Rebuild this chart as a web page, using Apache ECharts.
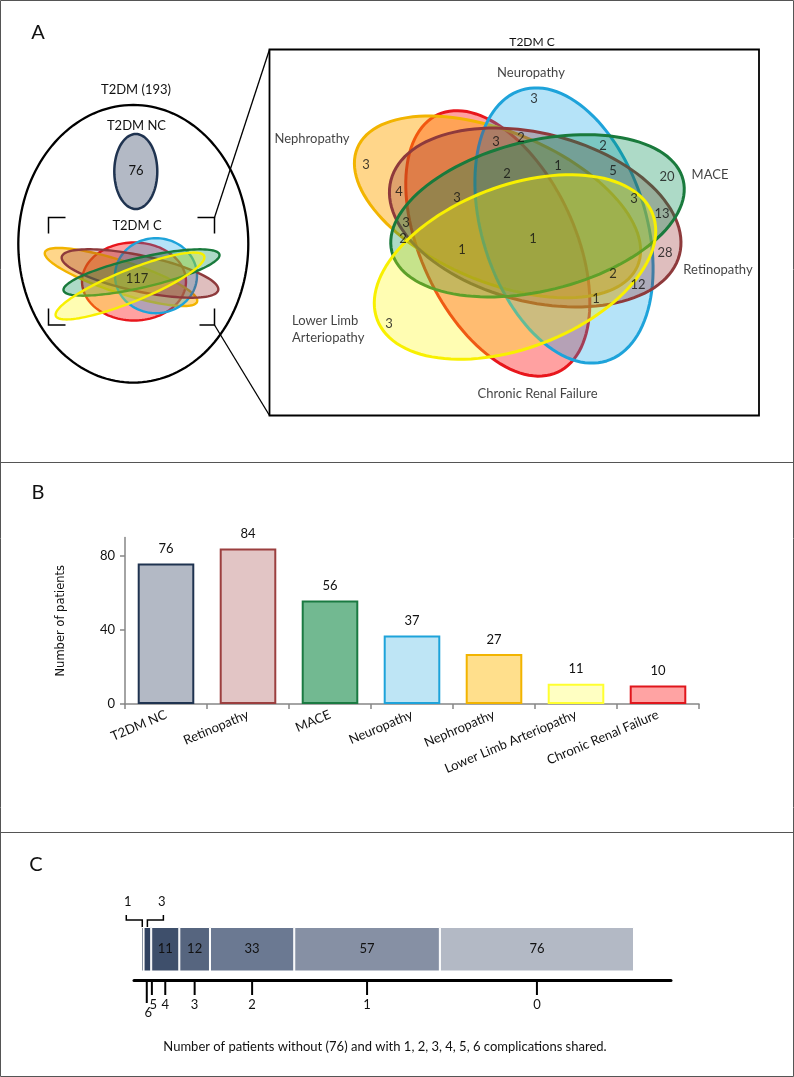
<!DOCTYPE html>
<html><head><meta charset="utf-8">
<script src="https://cdn.jsdelivr.net/npm/echarts@6/dist/echarts.min.js"></script>
<style>html,body{margin:0;padding:0;background:#fff}#c{width:794px;height:1077px}</style>
</head><body><div id="c"></div>
<script>
// ---------- Panel A : Venn of complications (T2DM C) ----------
// sets in drawing order
const vennSets   = ['Chronic Renal Failure', 'Nephropathy', 'Neuropathy', 'Retinopathy', 'MACE', 'Lower Limb\nArteriopathy'];
// large Venn ellipse geometry (venn coordinate space)
const vennCx     = [228.8, 228.5, 295.0, 266.2, 268.5, 246.0];
const vennCy     = [194.4, 157.9, 176.5, 168.5, 166.8, 218.0];
const vennA      = [142, 152, 142, 149, 150, 147.5];
const vennB      = [77, 75, 82, 84, 75, 81];
const vennAngle  = [65, 22.8, 72.5, 14.5, -13.8, -21];
// small Venn ellipse geometry (its own coordinate space)
const smallCx    = [134, 121, 156, 140, 141.5, 130];
const smallCy    = [81.5, 77, 75.7, 73.5, 72.5, 86];
const smallA     = [52, 80, 41, 80, 80, 80];
const smallB     = [39, 16, 37.5, 18, 15, 16];
const smallAngle = [0, 18, 0, 12, -13, -22];
const vennStroke = ['#e8161c', '#f2b400', '#1ea3da', '#8e3a3c', '#197a3c', '#f8f000'];
const vennFill   = ['rgba(255,0,0,0.37)', 'rgba(255,165,0,0.46)', 'rgba(0,158,230,0.29)', 'rgba(150,40,40,0.3)', 'rgba(0,140,80,0.32)', 'rgba(255,250,0,0.3)'];
// region counts and their positions
const vennCounts = [3, 3, 3, 2, 2, 20, 1, 5, 2, 4, 3, 3, 13, 3, 2, 1, 1, 28, 2, 12, 1, 3];
const vennCountX = [265, 97, 227, 252, 334, 398, 289, 344, 238, 130, 188, 365, 393, 137, 134, 264, 193, 396, 344, 369, 327, 120];
const vennCountY = [50, 116, 93, 89, 97, 128, 117, 122, 125, 143, 149, 150, 165, 174, 190, 190, 201, 204, 225, 236, 250, 275];
const vennLabelX = [268.5, 43, 262, 449, 441, 23];
const vennLabelY = [345, 90, 24, 221, 126, 280];
const totalT2DM = 193, totalNC = 76, totalC = 117;
const smallVennLabelPos = [137, 79];

// ---------- Panel B ----------
const categoriesB = ['T2DM NC', 'Retinopathy', 'MACE', 'Neuropathy', 'Nephropathy', 'Lower Limb Arteriopathy', 'Chronic Renal Failure'];
const valuesB     = [76, 84, 56, 37, 27, 11, 10];
const barFillB    = ['#b3b9c5', '#e2c5c5', '#72b991', '#bee5f5', '#ffdf8c', '#ffffc2', '#ffa3a3'];
const barStrokeB  = ['#1f3350', '#9b3f3f', '#1a7a42', '#1ea3da', '#f2b400', '#ffff30', '#e0161c'];
const ticksB      = [0, 40, 80];

// ---------- Panel C ----------
const complicationsC = ['6', '5', '4', '3', '2', '1', '0'];
const patientsC      = [1, 3, 11, 12, 33, 57, 76];
const colorsC        = ['#2b3c58', '#2f4160', '#3e4f6b', '#56657f', '#6b7992', '#8690a4', '#b3b9c5'];

// ---------- helpers ----------
const FONT = 'Lato, "Open Sans", sans-serif';
function ellipsePts(cx, cy, rx, ry, n) {
  const p = [];
  for (let k = 0; k < n; k++) { const t = k / n * Math.PI * 2; p.push([cx + rx * Math.cos(t), cy + ry * Math.sin(t)]); }
  return p;
}
function vennRender(A, B, ANG, lineW) {
  return function (params, api) {
    const i = params.dataIndex;
    const cx = api.value(0), cy = api.value(1);
    const a = A[i], b = B[i], th = ANG[i] * Math.PI / 180;
    const pts = [];
    for (let k = 0; k < 120; k++) {
      const t = k / 120 * 2 * Math.PI;
      const x = cx + a * Math.cos(t) * Math.cos(th) - b * Math.sin(t) * Math.sin(th);
      const y = cy + a * Math.cos(t) * Math.sin(th) + b * Math.sin(t) * Math.cos(th);
      pts.push(api.coord([x, y]));
    }
    return { type: 'polygon', shape: { points: pts }, style: { fill: vennFill[i], stroke: vennStroke[i], lineWidth: lineW } };
  };
}
const vennData  = vennCx.map((x, i) => [x, vennCy[i]]);
const smallData = smallCx.map((x, i) => [x, smallCy[i]]);

// cumulative segments for C
const segC = []; let acc = 0;
patientsC.forEach((v, i) => { segC.push([acc, acc + v, 0, i]); acc += v; });
const pxPerC = 493 / totalT2DM;

const chart = echarts.init(document.getElementById('c'), null, { renderer: 'canvas' });

const seriesC = patientsC.map((v, i) => ({
  type: 'bar', name: complicationsC[i], stack: 'c', xAxisIndex: 3, yAxisIndex: 3,
  barWidth: '100%', data: [v],
  itemStyle: { color: colorsC[i], borderColor: '#fff', borderWidth: 1 },
  label: { show: v >= 10, position: 'inside', color: '#111', fontSize: 13, fontFamily: FONT },
  silent: true
}));

const option = {
  animation: false,
  textStyle: { fontFamily: FONT },
  grid: [
    { left: 0, top: 200, width: 260, height: 150 },
    { left: 269, top: 49, width: 490, height: 367 },
    { left: 125, top: 537.5, width: 574, height: 166.5 },
    { left: 134, top: 927, width: 537, height: 44.5 }
  ],
  xAxis: [
    { type: 'value', gridIndex: 0, min: 0, max: 260, show: false },
    { type: 'value', gridIndex: 1, min: 0, max: 490, show: false },
    { type: 'category', gridIndex: 2, data: categoriesB,
      axisLine: { lineStyle: { color: '#868686', width: 1.5 } },
      axisTick: { show: true, length: 5, lineStyle: { color: '#868686', width: 1.5 } },
      axisLabel: { rotate: 23, margin: 10, fontSize: 13, color: '#111', fontFamily: FONT, interval: 0 } },
    { type: 'value', gridIndex: 3, min: -(141 - 134) / pxPerC, max: -(141 - 134) / pxPerC + 537 / pxPerC,
      splitLine: { show: false }, axisTick: { show: false }, axisLabel: { show: false },
      axisLine: { show: true, onZero: false, lineStyle: { color: '#000', width: 3 } }, offset: 9 }
  ],
  yAxis: [
    { type: 'value', gridIndex: 0, min: 0, max: 150, inverse: true, show: false },
    { type: 'value', gridIndex: 1, min: 0, max: 367, inverse: true, show: false },
    { type: 'value', gridIndex: 2, min: 0, max: 90,
      name: 'Number of patients', nameLocation: 'middle', nameGap: 58, nameRotate: 90,
      nameTextStyle: { fontSize: 11.5, color: '#111', fontFamily: 'DejaVu Sans' },
      splitLine: { show: false },
      axisLine: { show: true, lineStyle: { color: '#868686', width: 1.5 } },
      axisTick: { show: true, length: 5, customValues: ticksB, lineStyle: { color: '#868686', width: 1.5 } },
      axisLabel: { customValues: ticksB, fontSize: 13, color: '#111', margin: 10, fontFamily: FONT } },
    { type: 'category', gridIndex: 3, data: ['all'], show: false }
  ],
  series: [
    { type: 'custom', xAxisIndex: 0, yAxisIndex: 0, renderItem: vennRender(smallA, smallB, smallAngle, 2.4), data: smallData, encode: { x: 0, y: 1 }, silent: true },
    { type: 'scatter', xAxisIndex: 0, yAxisIndex: 0, symbolSize: 1, itemStyle: { color: 'rgba(0,0,0,0)' },
      data: [[smallVennLabelPos[0], smallVennLabelPos[1], totalC]],
      label: { show: true, position: 'inside', formatter: p => p.value[2], fontSize: 13, color: '#111', fontFamily: FONT }, silent: true },
    { type: 'custom', xAxisIndex: 1, yAxisIndex: 1, renderItem: vennRender(vennA, vennB, vennAngle, 3), data: vennData, encode: { x: 0, y: 1 }, silent: true },
    { type: 'scatter', xAxisIndex: 1, yAxisIndex: 1, symbolSize: 1, itemStyle: { color: 'rgba(0,0,0,0)' },
      data: vennCounts.map((c, i) => [vennCountX[i], vennCountY[i], c]),
      label: { show: true, position: 'inside', formatter: p => p.value[2], fontSize: 13, color: '#111', fontFamily: FONT }, silent: true },
    { type: 'scatter', xAxisIndex: 1, yAxisIndex: 1, symbolSize: 1, itemStyle: { color: 'rgba(0,0,0,0)' },
      data: vennSets.map((s, i) => ({ name: s, value: [vennLabelX[i], vennLabelY[i]],
        label: i === 5 ? { align: 'left', position: 'inside' } : {} })),
      label: { show: true, position: 'inside', formatter: '{b}', fontSize: 13, lineHeight: 17, color: '#111', fontFamily: FONT }, silent: true },
    { type: 'bar', xAxisIndex: 2, yAxisIndex: 2, barWidth: '69%',
      data: valuesB.map((v, i) => ({ value: v, itemStyle: { color: barFillB[i], borderColor: barStrokeB[i], borderWidth: 2 } })),
      label: { show: true, position: 'top', distance: 8, fontSize: 13, color: '#111', fontFamily: FONT }, silent: true },
    ...seriesC,
    { type: 'custom', xAxisIndex: 3, yAxisIndex: 3, data: segC, encode: { x: [0, 1], y: 2 }, silent: true, z: 5,
      renderItem: function (params, api) {
        const i = params.dataIndex;
        const s = api.value(0), e = api.value(1);
        const mid = (s + e) / 2;
        const p = api.coord([mid, 0]);
        const bandH = api.size([0, 1])[1];
        const top = p[1] - bandH / 2, bottom = p[1] + bandH / 2;
        const axisY = bottom + 9.5;
        const v = patientsC[i];
        const small = v < 5;
        const nudge = small ? 4.5 : 0;
        const tx = p[0] + nudge;
        const longTick = i === 0;
        const children = [
          { type: 'line', shape: { x1: tx, y1: axisY, x2: tx, y2: axisY + (longTick ? 22 : 14) }, style: { stroke: '#000', lineWidth: 2 } },
          { type: 'text', style: { text: complicationsC[i], x: tx + (small ? 1.5 : 0), y: axisY + (longTick ? 32 : 24), align: 'center', verticalAlign: 'middle', font: '13px ' + FONT, fill: '#111' } }
        ];
        if (small) {
          const dir = i === 0 ? -1 : 1;
          const ax = p[0];
          const lx = ax + dir * 16;
          children.push({ type: 'polyline', shape: { points: [[lx, top - 12], [lx, top - 7], [ax, top - 7], [ax, top]] }, style: { stroke: '#000', lineWidth: 1.5, fill: null } });
          children.push({ type: 'text', style: { text: String(v), x: lx - dir * 1.5, y: top - 25, align: 'center', verticalAlign: 'middle', font: '13px ' + FONT, fill: '#111' } });
        }
        return { type: 'group', children: children };
      } }
  ],
  graphic: [
    { type: 'rect', shape: { x: 0.5, y: 0.5, width: 793, height: 1076 }, style: { fill: null, stroke: '#555', lineWidth: 1 }, silent: true },
    { type: 'line', shape: { x1: 0, y1: 462.5, x2: 794, y2: 462.5 }, style: { stroke: '#555', lineWidth: 1 } },
    { type: 'line', shape: { x1: 0, y1: 832.5, x2: 794, y2: 832.5 }, style: { stroke: '#555', lineWidth: 1 } },
    { type: 'text', style: { text: 'A', x: 38, y: 33, align: 'center', verticalAlign: 'middle', font: '20px ' + FONT, fill: '#111' } },
    { type: 'text', style: { text: 'B', x: 38, y: 493, align: 'center', verticalAlign: 'middle', font: '20px ' + FONT, fill: '#111' } },
    { type: 'text', style: { text: 'C', x: 36, y: 865, align: 'center', verticalAlign: 'middle', font: '20px ' + FONT, fill: '#111' } },
    { type: 'polygon', shape: { points: ellipsePts(133.3, 243.8, 115, 138.8, 160) }, style: { fill: null, stroke: '#000', lineWidth: 2.3 }, z: 1 },
    { type: 'polygon', shape: { points: ellipsePts(135.8, 171.5, 21.5, 37.5, 80) }, style: { fill: '#b3b9c5', stroke: '#1f3350', lineWidth: 2.5 } },
    { type: 'text', style: { text: 'T2DM (' + totalT2DM + ')', x: 136, y: 90, align: 'center', verticalAlign: 'middle', font: '13px ' + FONT, fill: '#111' } },
    { type: 'text', style: { text: 'T2DM NC', x: 136.5, y: 126, align: 'center', verticalAlign: 'middle', font: '13px ' + FONT, fill: '#111' } },
    { type: 'text', style: { text: String(totalNC), x: 136, y: 171, align: 'center', verticalAlign: 'middle', font: '13px ' + FONT, fill: '#111' } },
    { type: 'text', style: { text: 'T2DM C', x: 137, y: 226, align: 'center', verticalAlign: 'middle', font: '13px ' + FONT, fill: '#111' } },
    { type: 'polyline', shape: { points: [[48.5, 233.5], [48.5, 217.5], [65.5, 217.5]] }, style: { stroke: '#000', lineWidth: 1.5, fill: null } },
    { type: 'polyline', shape: { points: [[197.5, 217.5], [214.5, 217.5], [214.5, 233.5]] }, style: { stroke: '#000', lineWidth: 1.5, fill: null } },
    { type: 'polyline', shape: { points: [[48.5, 308.5], [48.5, 325], [65.5, 325]] }, style: { stroke: '#000', lineWidth: 1.5, fill: null } },
    { type: 'polyline', shape: { points: [[199.5, 325], [214.5, 325], [214.5, 308.5]] }, style: { stroke: '#000', lineWidth: 1.5, fill: null } },
    { type: 'line', shape: { x1: 214.5, y1: 217.5, x2: 269.5, y2: 49.5 }, style: { stroke: '#000', lineWidth: 1.3 } },
    { type: 'line', shape: { x1: 214.5, y1: 325, x2: 269.5, y2: 415.5 }, style: { stroke: '#000', lineWidth: 1.3 } },
    { type: 'rect', shape: { x: 269.5, y: 49.5, width: 489.5, height: 366 }, style: { fill: null, stroke: '#000', lineWidth: 1.8 } },
    { type: 'text', style: { text: 'T2DM C', x: 532, y: 42, align: 'center', verticalAlign: 'middle', font: '12px ' + FONT, fill: '#111' } },
    { type: 'text', style: { text: 'Number of patients without (' + totalNC + ') and with 1, 2, 3, 4, 5, 6 complications shared.', x: 385, y: 1047, align: 'center', verticalAlign: 'middle', font: '13px ' + FONT, fill: '#111' } }
  ]
};
chart.setOption(option);
</script></body></html>
